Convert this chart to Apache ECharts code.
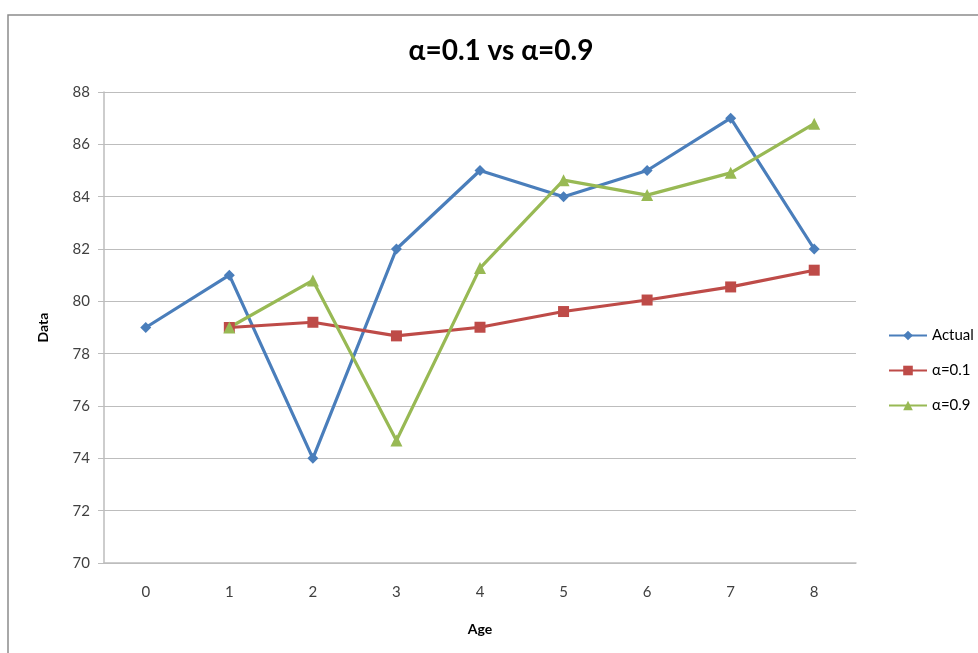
<!DOCTYPE html>
<html><head><meta charset="utf-8">
<script src="https://cdn.jsdelivr.net/npm/echarts@6/dist/echarts.min.js"></script>
<style>html,body{margin:0;padding:0;background:#fff}#c{width:978px;height:653px}</style>
</head><body><div id="c"></div>
<script>
const categories = ['0','1','2','3','4','5','6','7','8'];
const actual = [79, 81, 74, 82, 85, 84, 85, 87, 82];
const alpha01 = [null, 79, 79.2, 78.68, 79.01, 79.61, 80.05, 80.55, 81.19];
const alpha09 = [null, 79, 80.8, 74.68, 81.27, 84.63, 84.06, 84.91, 86.79];
const seriesNames = ['Actual', 'α=0.1', 'α=0.9'];
const chart = echarts.init(document.getElementById('c'));
const font = 'Lato, "Open Sans", sans-serif';
chart.setOption({
  animation: false,
  backgroundColor: '#fff',
  graphic: [{type:'rect', shape:{x:8,y:15,width:1000,height:700}, style:{fill:'none', stroke:'#8c8c8c', lineWidth:1.5}, silent:true}],
  title: {text: 'α=0.1 vs α=0.9', left: 496, top: 32, textAlign: 'center',
    textStyle: {fontFamily: font, fontSize: 28, fontWeight: 'bold', color: '#000'}},
  grid: {left: 104, right: 122, top: 92, bottom: 90},
  legend: {orient: 'vertical', left: 883, top: 323, itemGap: 20, itemWidth: 38, itemHeight: 12,
    data: seriesNames, textStyle: {fontFamily: font, fontSize: 15, color: '#000'}},
  xAxis: {type: 'category', data: categories, boundaryGap: true,
    name: 'Age', nameLocation: 'middle', nameGap: 59,
    nameTextStyle: {fontFamily: font, fontSize: 14, fontWeight: 'bold', color: '#000'},
    axisLine: {lineStyle: {color: '#bdbdbd', width: 1.5}},
    axisTick: {show: false},
    axisLabel: {fontFamily: font, fontSize: 15, color: '#404040', margin: 22}},
  yAxis: {type: 'value', min: 70, max: 88, interval: 2,
    name: 'Data', nameLocation: 'middle', nameGap: 54,
    nameTextStyle: {fontFamily: font, fontSize: 14, fontWeight: 'bold', color: '#000'},
    axisLine: {show: true, lineStyle: {color: '#bdbdbd', width: 1.5}},
    axisTick: {show: true, length: 6, lineStyle: {color: '#bdbdbd'}},
    splitLine: {lineStyle: {color: '#bdbdbd', width: 1.2}},
    axisLabel: {fontFamily: font, fontSize: 15, color: '#404040', margin: 14}},
  series: [
    {name: seriesNames[0], type: 'line', data: actual, symbol: 'diamond', symbolSize: 11,
      lineStyle: {color: '#4A7EBB', width: 3.2}, itemStyle: {color: '#4A7EBB'}},
    {name: seriesNames[1], type: 'line', data: alpha01, symbol: 'rect', symbolSize: 11,
      lineStyle: {color: '#BE4B48', width: 3.2}, itemStyle: {color: '#BE4B48'}},
    {name: seriesNames[2], type: 'line', data: alpha09, symbol: 'triangle', symbolSize: 12,
      lineStyle: {color: '#98B954', width: 3.2}, itemStyle: {color: '#98B954'}}
  ]
});
</script></body></html>
